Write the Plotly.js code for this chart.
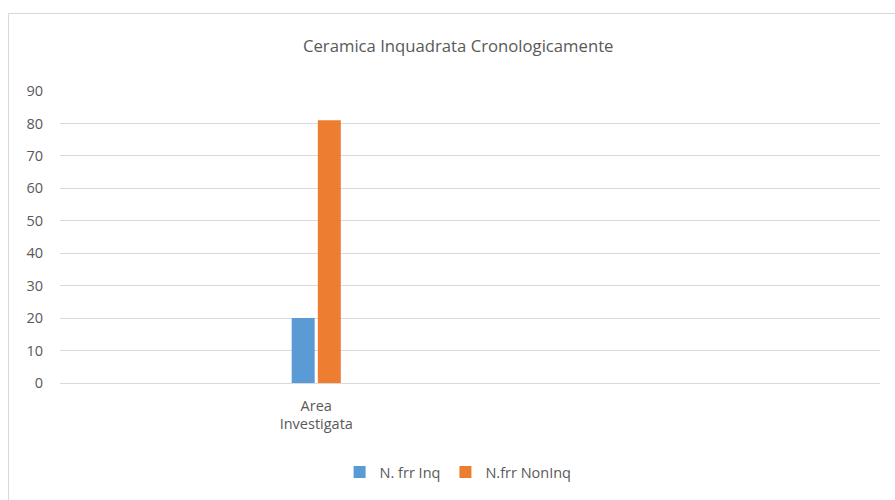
<!DOCTYPE html>
<html>
<head>
<meta charset="utf-8">
<script src="https://cdn.plot.ly/plotly-3.0.1.min.js"></script>
<style>
  html, body { margin: 0; padding: 0; background: #ffffff; overflow: hidden; }
  #frame { position: absolute; left: 8px; top: 13px; width: 900px; height: 500px; border: 1px solid #d9d9d9; box-sizing: border-box; }
  #chart { position: absolute; left: 0; top: 0; width: 895px; height: 500px; }
</style>
</head>
<body>
<div id="frame"></div>
<div id="chart"></div>
<script>
const categories = ["Area<br>Investigata"];
const seriesNames = ["N. frr Inq", "N.frr NonInq"];
const inqValues = [20];
const nonInqValues = [81];
const yTicks = [0, 10, 20, 30, 40, 50, 60, 70, 80, 90];
const catPos = categories.map((c, i) => i);

const font = "Open Sans, Noto Sans, sans-serif";

const traces = [
  { type: "bar", name: seriesNames[0], x: catPos, y: inqValues, marker: { color: "#5B9BD5" }, hoverinfo: "y" },
  { type: "bar", name: seriesNames[1], x: catPos, y: nonInqValues, marker: { color: "#ED7D31" }, hoverinfo: "y" }
];

const layout = {
  width: 895, height: 500,
  paper_bgcolor: "rgba(0,0,0,0)", plot_bgcolor: "rgba(0,0,0,0)",
  margin: { l: 60, r: 15, t: 91, b: 117, autoexpand: false },
  font: { family: font, color: "#595959", size: 14 },
  title: { text: "Ceramica Inquadrata Cronologicamente", x: 0.512, xref: "container", xanchor: "center", y: 0.908, yref: "container", yanchor: "middle", font: { family: font, size: 16.7, color: "#595959" } },
  barmode: "group", bargap: 0.898, bargroupgap: 0.12,
  xaxis: { type: "linear", range: [-0.5, 1.1], tickvals: catPos, ticktext: categories, showgrid: false, showline: false, zeroline: false, ticks: "", ticklabelstandoff: 12, tickfont: { size: 14.5, color: "#595959" }, fixedrange: true },
  yaxis: { range: [0, 90], tickvals: yTicks, showgrid: true, gridcolor: "#d9d9d9", gridwidth: 1, zeroline: true, zerolinecolor: "#d9d9d9", zerolinewidth: 1, showline: false, ticks: "", ticklen: 0, ticklabelstandoff: 16, tickfont: { size: 14.5, color: "#595959" }, fixedrange: true },
  showlegend: true,
  legend: { orientation: "h", x: 0.4855, xanchor: "center", y: -0.305, yanchor: "middle", font: { size: 14.5, color: "#595959" }, itemwidth: 30, tracegroupgap: 0 }
};

Plotly.newPlot("chart", traces, layout, { displayModeBar: false, staticPlot: true });
</script>
</body>
</html>
